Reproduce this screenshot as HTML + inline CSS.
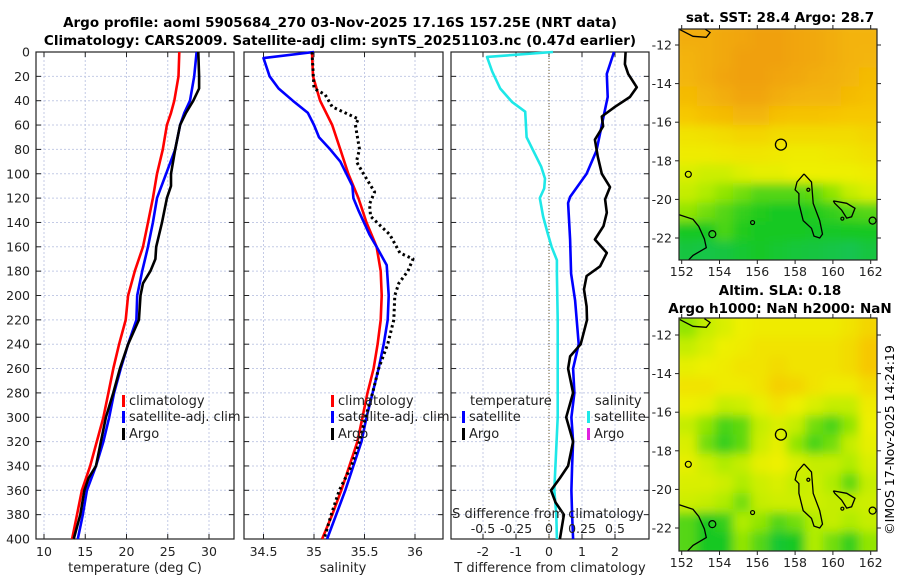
<!DOCTYPE html>
<html><head><meta charset="utf-8"><style>
html,body{margin:0;padding:0;background:#fff;}
svg{display:block;font-family:"DejaVu Sans","Liberation Sans",sans-serif;}
</style></head><body>
<svg id="chart" width="900" height="580" viewBox="0 0 900 580" xmlns="http://www.w3.org/2000/svg">
<defs>
<clipPath id="clipTop"><rect x="679" y="29" width="198" height="231"/></clipPath>
<clipPath id="clipBot"><rect x="679" y="318" width="198" height="233"/></clipPath>
<filter id="blur" x="-5%" y="-5%" width="110%" height="110%"><feGaussianBlur stdDeviation="5"/></filter>
</defs>
<text x="340" y="27" font-size="13.5" font-weight="bold" text-anchor="middle">Argo profile: aoml 5905684_270 03-Nov-2025 17.16S 157.25E (NRT data)</text>
<text x="340" y="45" font-size="13.5" font-weight="bold" text-anchor="middle">Climatology: CARS2009. Satellite-adj clim: synTS_20251103.nc (0.47d earlier)</text>
<text x="780" y="22" font-size="13.5" font-weight="bold" text-anchor="middle">sat. SST: 28.4 Argo: 28.7</text>
<text x="780" y="295" font-size="13.5" font-weight="bold" text-anchor="middle">Altim. SLA: 0.18</text>
<text x="780" y="313" font-size="13.5" font-weight="bold" text-anchor="middle">Argo h1000: NaN h2000: NaN</text>
<text transform="translate(894,440) rotate(-90)" font-size="12.5" text-anchor="middle">©IMOS 17-Nov-2025 14:24:19</text>
<g id="g"></g>
</svg>
<script>
// ---- temperature panel data ----
const tClimDepth=[0,20,40,50,60,80,100,120,140,160,180,200,220,240,260,280,300,320,340,360,380,400];
const tClim=[26.4,26.3,25.8,25.4,24.9,24.4,23.7,23.2,22.6,22.0,21.0,20.2,19.9,19.1,18.4,17.8,17.2,16.4,15.6,14.6,14.0,13.4];
const tSat=[28.5,28.2,27.7,27.0,26.5,25.9,24.8,23.7,23.2,22.6,21.9,21.3,21.2,20.2,19.3,18.5,17.9,17.2,16.3,15.2,14.7,14.1];
const tArgoDepth=[0,20,30,40,50,60,80,100,110,120,140,160,170,180,190,200,220,240,260,280,300,320,340,350,360,380,400];
const tArgo=[28.7,28.8,28.8,28.1,27.2,26.5,25.9,25.4,25.4,24.9,24.3,23.6,23.5,22.9,22.0,21.7,21.5,20.2,19.2,18.4,17.5,16.9,16.3,15.4,14.9,14.4,13.6];
// ---- salinity panel data ----
const sClimDepth=[0,20,40,60,80,100,120,140,160,180,200,220,240,260,280,300,320,340,360,380,400];
const sClim=[34.98,34.99,35.06,35.18,35.26,35.34,35.44,35.52,35.62,35.66,35.67,35.66,35.63,35.59,35.53,35.48,35.43,35.35,35.27,35.18,35.08];
const sSatDepth=[0,5,20,30,40,50,60,70,80,90,110,120,130,150,160,175,200,220,240,260,280,300,320,340,360,380,400];
const sSat=[35.0,34.5,34.56,34.65,34.79,34.94,35.0,35.05,35.16,35.26,35.38,35.39,35.44,35.55,35.62,35.72,35.74,35.73,35.69,35.64,35.58,35.52,35.47,35.39,35.31,35.22,35.13];
const sArgoDepth=[0,30,35,45,55,60,80,90,100,115,125,135,150,165,170,180,190,200,220,240,260,280,300,320,340,360,380,400];
const sArgo=[34.98,35.0,35.11,35.18,35.44,35.41,35.45,35.42,35.49,35.6,35.55,35.56,35.75,35.85,35.98,35.93,35.84,35.8,35.79,35.73,35.64,35.58,35.51,35.45,35.37,35.25,35.17,35.1];
// ---- difference panel data ----
const dSDepth=[0,4,16,30,41,49,70,81,94,104,112,120,135,149,160,171,182,220,300,360,380,400];
const dSSat=[0.03,-0.47,-0.43,-0.37,-0.28,-0.18,-0.17,-0.12,-0.06,-0.03,-0.036,-0.07,-0.045,-0.01,0.02,0.06,0.06,0.066,0.066,0.04,0.055,0.06];
const dTDepth=[0,18,37,56,81,100,119,124,154,182,204,220,240,260,280,300,320,340,360,380,400];
const dTSat=[1.97,1.75,1.78,1.63,1.44,1.14,0.64,0.58,0.64,0.67,0.79,0.84,0.9,0.73,0.77,0.68,0.73,0.7,0.68,0.7,0.73];
const dTArgoDepth=[0,10,18,29,37,45,53,61,72,86,100,111,121,132,143,154,165,176,184,195,209,220,240,250,260,280,300,320,340,350,360,370,380,400];
const dTArgo=[2.32,2.3,2.4,2.66,2.45,2.0,1.6,1.64,1.39,1.48,1.6,1.85,1.7,1.75,1.65,1.39,1.75,1.55,1.14,1.06,1.14,1.15,0.96,0.64,0.58,0.73,0.52,0.73,0.58,0.33,0.06,0.2,0.45,0.33];
// ---- ticks ----
const depthTicks=[0,20,40,60,80,100,120,140,160,180,200,220,240,260,280,300,320,340,360,380,400];
const tTicks=[10,15,20,25,30];
const sTicks=[34.5,35,35.5,36];
const sTickLabels=["34.5","35","35.5","36"];
const dTicks=[-2,-1,0,1,2];
const dSTicks=[-0.5,-0.25,0,0.25,0.5];
const dSTickLabels=["-0.5","-0.25","0","0.25","0.5"];
const lonTicks=[152,154,156,158,160,162];
const latTicks=[-12,-14,-16,-18,-20,-22];
// ---- map grids (normalised colour value, rows north->south, 11 columns) ----
const sstGrid=[
[.95,.95,.97,.98,1,1,.98,.97,.95,.93,.93],
[.93,.95,.97,1,1,1,.98,.97,.95,.93,.92],
[.92,.95,.98,1,1,.98,.97,.95,.94,.92,.9],
[.9,.92,.95,.98,.98,.95,.93,.92,.92,.9,.88],
[.85,.88,.9,.92,.92,.88,.87,.87,.86,.85,.85],
[.75,.76,.78,.8,.8,.78,.78,.78,.78,.78,.8],
[.72,.72,.73,.74,.74,.73,.72,.72,.73,.74,.76],
[.65,.62,.62,.66,.68,.68,.7,.7,.7,.7,.72],
[.6,.55,.5,.45,.4,.4,.4,.42,.5,.6,.65],
[.5,.45,.4,.35,.32,.3,.3,.32,.35,.38,.4],
[.3,.3,.38,.32,.3,.3,.3,.28,.28,.3,.3],
[.2,.18,.2,.25,.28,.25,.22,.2,.18,.15,.2]];
const slaGrid=[
[.5,.6,.65,.7,.72,.72,.72,.72,.72,.75,.8],
[.6,.65,.7,.72,.75,.75,.75,.75,.75,.78,.85],
[.68,.7,.72,.75,.75,.78,.75,.75,.75,.78,.85],
[.75,.75,.72,.72,.75,.82,.8,.75,.72,.72,.78],
[.7,.68,.6,.62,.68,.75,.7,.65,.6,.6,.72],
[.6,.5,.38,.42,.6,.65,.6,.45,.38,.5,.7],
[.65,.45,.35,.42,.62,.68,.5,.38,.45,.6,.68],
[.68,.62,.55,.6,.68,.7,.65,.6,.6,.55,.65],
[.65,.65,.62,.55,.62,.65,.6,.62,.55,.42,.6],
[.62,.6,.55,.45,.6,.62,.62,.62,.6,.6,.62],
[.4,.3,.35,.55,.5,.4,.45,.55,.6,.55,.6],
[.4,.3,.3,.5,.4,.25,.3,.55,.45,.35,.5]];

const NS="http://www.w3.org/2000/svg";
const root=document.getElementById('g');
function mk(tag,attrs,parent){const e=document.createElementNS(NS,tag);for(const k in attrs)e.setAttribute(k,attrs[k]);(parent||root).appendChild(e);return e;}
function txt(x,y,s,size,anchor,parent){const e=mk('text',{x:x,y:y,'font-size':size,'text-anchor':anchor||'middle',fill:'#222'},parent);e.textContent=s;return e;}

const Y=d=>52+d*1.2175;
const X1=t=>44+(t-10)*8.25;
const X2=s=>314+(s-35)*101;
const X3=t=>549+t*33;
const X3s=s=>549+s*132;
const panels=[{l:36,r:234,x:X1,ticks:tTicks,labels:tTicks.map(String),name:'temperature'},
              {l:244,r:443,x:X2,ticks:sTicks,labels:sTickLabels,name:'salinity'},
              {l:451,r:649,x:X3,ticks:dTicks,labels:dTicks.map(String),name:'difference'}];
const yTop=Y(0),yBot=Y(400);

panels.forEach((p,i)=>{
  const g=mk('g',{});
  
  
  depthTicks.forEach(d=>{
    const ln=mk('line',{x1:p.l,x2:p.r,y1:Y(d),y2:Y(d),stroke:'#c4cbe6','stroke-width':1,'stroke-dasharray':'2,2'},g);
    
    
    mk('line',{x1:p.l,x2:p.l+5,y1:Y(d),y2:Y(d),stroke:'#222'},g);
    mk('line',{x1:p.r-5,x2:p.r,y1:Y(d),y2:Y(d),stroke:'#222'},g);
  });
  p.ticks.forEach((t,k)=>{
    const gl=mk('line',{x1:p.x(t),x2:p.x(t),y1:yTop,y2:yBot,stroke:'#c4cbe6','stroke-dasharray':'2,2'},g);
    
    
    mk('line',{x1:p.x(t),x2:p.x(t),y1:yBot-5,y2:yBot,stroke:'#222'},g);
    mk('line',{x1:p.x(t),x2:p.x(t),y1:yTop,y2:yTop+5,stroke:'#222'},g);
    const tl=txt(p.x(t),556,p.labels[k],12.5,'middle',g);
    
    
  });
  const fr=mk('rect',{x:p.l,y:yTop,width:p.r-p.l,height:yBot-yTop,fill:'none',stroke:'#222','stroke-width':1.2},g);
  
  
});
depthTicks.forEach(d=>{
  const t=txt(30,Y(d)+4.5,String(d),12.5,'end');
  
  
});
let at;
at=txt(135,572,'temperature (deg C)',13);
at=txt(343,572,'salinity',13);
at=txt(550,572,'T difference from climatology',13);

const zl=mk('line',{x1:X3(0),x2:X3(0),y1:yTop,y2:yBot,stroke:'#6b5a2a','stroke-width':1,'stroke-dasharray':'1,2'});



function series(xs,ds,xf,color,name,dash,w){
  const pts=xs.map((v,i)=>xf(v).toFixed(1)+','+Y(ds[i]).toFixed(1)).join(' ');
  const a={points:pts,fill:'none',stroke:color,'stroke-width':w||2.6,'stroke-linejoin':'round'};
  if(dash)a['stroke-dasharray']=dash;
  const e=mk('polyline',a);
  
  
}
series(tClim,tClimDepth,X1,'#f00','temp-climatology-line');
series(tSat,tClimDepth,X1,'#00f','temp-satellite-line');
series(tArgo,tArgoDepth,X1,'#000','temp-argo-line');
series(sClim,sClimDepth,X2,'#f00','sal-climatology-line');
series(sSat,sSatDepth,X2,'#00f','sal-satellite-line');
series(sArgo,sArgoDepth,X2,'#000','sal-argo-line','2.5,3',3);
series(dSSat,dSDepth,X3s,'#1ee8e8','sal-diff-satellite-line');
series(dTSat,dTDepth,X3,'#00f','temp-diff-satellite-line');
series(dTArgo,dTArgoDepth,X3,'#000','temp-diff-argo-line');

at=txt(548,518,'S difference from climatology',13);
dSTicks.forEach((s,k)=>{const t=txt(X3s(s),533,dSTickLabels[k],12.5);});

function legItem(x,y,color,label,nm){
  const g=mk('g',{});
  
  
  mk('rect',{x:x,y:y-10,width:3,height:12,fill:color},g);
  txt(x+7,y,label,13,'start',g);
}
legItem(122,405,'#f00','climatology','legend-entry-climatology');
legItem(122,421,'#00f','satellite-adj. clim','legend-entry-satellite');
legItem(122,438,'#000','Argo','legend-entry-argo');
legItem(331,405,'#f00','climatology','legend-entry-climatology');
legItem(331,421,'#00f','satellite-adj. clim','legend-entry-satellite');
legItem(331,438,'#000','Argo','legend-entry-argo');
at=txt(470,405,'temperature',13,'start');
at=txt(595,405,'salinity',13,'start');
legItem(462,421,'#00f','satellite','legend-entry-t-satellite');
legItem(462,438,'#000','Argo','legend-entry-t-argo');
legItem(587,421,'#1ee8e8','satellite','legend-entry-s-satellite');
legItem(587,438,'#e020e0','Argo','legend-entry-s-argo');

// ---- maps ----
const stops=[[0,[16,192,128]],[0.3,[24,200,32]],[0.55,[176,236,0]],[0.7,[238,240,0]],[0.85,[246,200,0]],[1,[240,160,16]]];
function cmap(v){for(let i=1;i<stops.length;i++){if(v<=stops[i][0]){const a=stops[i-1],b=stops[i];const f=(v-a[0])/(b[0]-a[0]);const c=a[1].map((q,j)=>Math.round(q+(b[1][j]-q)*f));return 'rgb('+c.join(',')+')';}}return 'rgb(240,160,16)';}
const LX=l=>681.7+(l-152)*18.9;
function coast(LY,g){
  const isl=[[158.47,-18.68],[158.87,-19.1],[158.96,-20.2],[159.3,-21.1],[159.45,-21.8],[159.3,-22.0],[159.0,-21.9],[158.87,-21.5],[158.43,-21.1],[158.2,-20.2],[158.2,-19.7],[158.0,-19.5],[158.1,-19.1],[158.47,-18.68]];
  const left=[[151.87,-20.8],[152.6,-21.03],[152.9,-21.4],[153.2,-22.05],[153.3,-22.5],[152.6,-22.9],[152.3,-23.2]];
  const right=[[160.02,-20.08],[160.73,-20.2],[161.17,-20.46],[160.99,-20.9],[160.73,-20.97],[160.46,-20.55],[160.1,-20.2],[160.02,-20.08]];
  const tl=[[151.9,-11.2],[152.6,-11.55],[153.3,-11.6],[153.5,-11.35],[153.2,-11.15]];
  [[isl,'island-coastline'],[left,'left-coastline'],[right,'right-reef-coastline'],[tl,'north-coastline']].forEach(([pts,nm])=>{
    const e=mk('polyline',{points:pts.map(p=>LX(p[0]).toFixed(1)+','+LY(p[1]).toFixed(1)).join(' '),fill:'none',stroke:'#000','stroke-width':1.3},g);
    
    
  });
  [[162.1,-21.1,3.5],[155.75,-21.2,2],[153.62,-21.8,3.5],[152.35,-18.7,3],[158.7,-19.5,1.5],[160.5,-21.0,1.5]].forEach(c=>{
    const e=mk('circle',{cx:LX(c[0]),cy:LY(c[1]),r:c[2],fill:'none',stroke:'#000','stroke-width':1.2},g);
    
    
  });
  const pos=mk('circle',{cx:LX(157.25),cy:LY(-17.16),r:5.5,fill:'none',stroke:'#000','stroke-width':1.3},g);
  
  
}
function drawMap(grid,fy,fh,lat0y,clipId,nm){
  const LY=la=>lat0y+(-12-la)*19.3;
  const g=mk('g',{});
  
  
  const cg=mk('g',{'clip-path':'url(#'+clipId+')'},g);
  const hg=mk('g',{filter:'url(#blur)'},cg);
  const nr=grid.length,nc=grid[0].length,cw=198/nc,ch=fh/nr;
  grid.forEach((row,r)=>row.forEach((v,c)=>{
    const e=mk('rect',{x:(679+c*cw-(c==0?8:0)).toFixed(1),y:(fy+r*ch-(r==0?8:0)).toFixed(1),width:(cw+1+(c==0||c==nc-1?8:0)).toFixed(1),height:(ch+1+(r==0||r==nr-1?8:0)).toFixed(1),fill:cmap(v)},hg);
    
    
  }));
  coast(LY,cg);
  lonTicks.forEach(l=>{
    mk('line',{x1:LX(l),x2:LX(l),y1:fy+fh,y2:fy+fh+4,stroke:'#222'},g);
    mk('line',{x1:LX(l),x2:LX(l),y1:fy-4,y2:fy,stroke:'#222'},g);
    const t=txt(LX(l),fy+fh+16,String(l),12.5,'middle',g);
    
    
  });
  latTicks.forEach(la=>{
    mk('line',{x1:877,x2:881,y1:LY(la),y2:LY(la),stroke:'#222'},g);
    mk('line',{x1:675,x2:679,y1:LY(la),y2:LY(la),stroke:'#222'},g);
    const t=txt(672,LY(la)+4.5,String(la),12.5,'end',g);
    
    
  });
  mk('rect',{x:679,y:fy,width:198,height:fh,fill:'none',stroke:'#222','stroke-width':1.2},g);
}
drawMap(sstGrid,29,231,45,'clipTop','sst-map');
drawMap(slaGrid,318,233,335,'clipBot','sla-map');
</script>
</body></html>
